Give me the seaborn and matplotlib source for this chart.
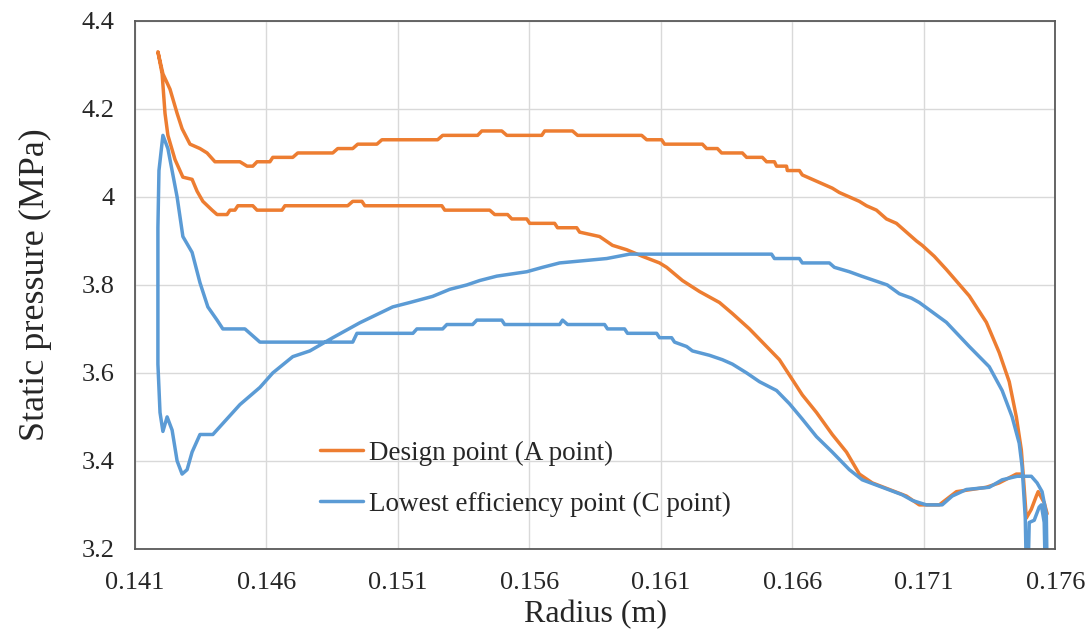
import numpy as np
import pandas as pd
import matplotlib
matplotlib.use("Agg")
import matplotlib.pyplot as plt
import seaborn as sns
from matplotlib.ticker import FuncFormatter

# ---------------- data ----------------
# Design point (A point): two branches of the blade loop
a_upper_r = [0.14187, 0.14206, 0.14233, 0.14260, 0.14279, 0.14309, 0.14347, 0.14374, 0.14404, 0.14499,
             0.14526, 0.14548, 0.14564, 0.14613, 0.14624, 0.14700, 0.14719, 0.14852, 0.14871, 0.14928,
             0.14947, 0.15020, 0.15039, 0.15251, 0.15270, 0.15403, 0.15419, 0.15495, 0.15514, 0.15647,
             0.15658, 0.15764, 0.15783, 0.16027, 0.16046, 0.16103, 0.16114, 0.16258, 0.16274, 0.16315,
             0.16331, 0.16410, 0.16426, 0.16486, 0.16502, 0.16532, 0.16540, 0.16578, 0.16581, 0.16627,
             0.16638, 0.16676, 0.16714, 0.16752, 0.16779, 0.16817, 0.16855, 0.16882, 0.16920, 0.16958,
             0.16996, 0.17034, 0.17072, 0.17094, 0.17140, 0.17186, 0.17273, 0.17338, 0.17387, 0.17425,
             0.17452, 0.17471, 0.17478, 0.17490, 0.17509, 0.17528, 0.17535, 0.17558, 0.17569]
a_upper_p = [4.33, 4.28, 4.245, 4.19, 4.155, 4.12, 4.11, 4.10, 4.08, 4.08,
             4.07, 4.07, 4.08, 4.08, 4.09, 4.09, 4.10, 4.10, 4.11, 4.11,
             4.12, 4.12, 4.13, 4.13, 4.14, 4.14, 4.15, 4.15, 4.14, 4.14,
             4.15, 4.15, 4.14, 4.14, 4.13, 4.13, 4.12, 4.12, 4.11, 4.11,
             4.10, 4.10, 4.09, 4.09, 4.08, 4.08, 4.07, 4.07, 4.06, 4.06,
             4.05, 4.04, 4.03, 4.02, 4.01, 4.00, 3.99, 3.98, 3.97, 3.95,
             3.94, 3.92, 3.90, 3.89, 3.865, 3.835, 3.775, 3.715, 3.646, 3.58,
             3.50, 3.425, 3.37, 3.27, 3.29, 3.32, 3.33, 3.305, 3.28]

a_lower_r = [0.14187, 0.14203, 0.14214, 0.14225, 0.14252, 0.14282, 0.14317, 0.14336, 0.14358, 0.14393,
             0.14412, 0.14450, 0.14461, 0.14480, 0.14491, 0.14548, 0.14564, 0.14659, 0.14670, 0.14909,
             0.14928, 0.14963, 0.14974, 0.15267, 0.15278, 0.15449, 0.15468, 0.15517, 0.15533, 0.15590,
             0.15601, 0.15696, 0.15707, 0.15780, 0.15791, 0.15867, 0.15916, 0.15970, 0.16030, 0.16095,
             0.16122, 0.16182, 0.16247, 0.16323, 0.16372, 0.16437, 0.16502, 0.16551, 0.16600, 0.16638,
             0.16692, 0.16752, 0.16806, 0.16855, 0.16904, 0.16969, 0.17034, 0.17083, 0.17159, 0.17224,
             0.17338, 0.17387, 0.17452, 0.17471]
a_lower_p = [4.33, 4.28, 4.19, 4.14, 4.085, 4.045, 4.04, 4.013, 3.99, 3.97,
             3.96, 3.96, 3.97, 3.97, 3.98, 3.98, 3.97, 3.97, 3.98, 3.98,
             3.99, 3.99, 3.98, 3.98, 3.97, 3.97, 3.96, 3.96, 3.95, 3.95,
             3.94, 3.94, 3.93, 3.93, 3.92, 3.91, 3.89, 3.88, 3.865, 3.85,
             3.84, 3.81, 3.785, 3.76, 3.735, 3.70, 3.66, 3.63, 3.585, 3.55,
             3.51, 3.46, 3.42, 3.37, 3.35, 3.335, 3.32, 3.30, 3.30, 3.33,
             3.34, 3.35, 3.37, 3.37]

# Lowest efficiency point (C point)
c_upper_r = [0.14206, 0.14225, 0.14260, 0.14282, 0.14317, 0.14347, 0.14377, 0.14412, 0.14434, 0.14518,
             0.14537, 0.14575, 0.14928, 0.14936, 0.14944, 0.15157, 0.15172, 0.15270, 0.15286, 0.15384,
             0.15400, 0.15495, 0.15506, 0.15715, 0.15726, 0.15745, 0.15886, 0.15897, 0.15962, 0.15973,
             0.16084, 0.16095, 0.16141, 0.16152, 0.16198, 0.16220, 0.16285, 0.16334, 0.16372, 0.16426,
             0.16475, 0.16540, 0.16589, 0.16638, 0.16692, 0.16752, 0.16817, 0.16866, 0.16942, 0.17018,
             0.17057, 0.17083, 0.17110, 0.17170, 0.17208, 0.17262, 0.17349, 0.17398, 0.17455, 0.17509,
             0.17531, 0.17550, 0.17566, 0.17569]
c_upper_p = [4.14, 4.11, 4.00, 3.91, 3.874, 3.805, 3.75, 3.72, 3.70, 3.70,
             3.69, 3.67, 3.67, 3.68, 3.69, 3.69, 3.70, 3.70, 3.71, 3.71,
             3.72, 3.72, 3.71, 3.71, 3.72, 3.71, 3.71, 3.70, 3.70, 3.69,
             3.69, 3.68, 3.68, 3.67, 3.66, 3.65, 3.64, 3.63, 3.62, 3.60,
             3.58, 3.56, 3.53, 3.495, 3.455, 3.42, 3.38, 3.357, 3.34, 3.323,
             3.31, 3.305, 3.30, 3.30, 3.32, 3.335, 3.34, 3.357, 3.365, 3.365,
             3.35, 3.33, 3.28, 3.15]

c_lower_r = [0.14206, 0.14191, 0.14187, 0.14187, 0.14187, 0.14195, 0.14206, 0.14222, 0.14241, 0.14260,
             0.14279, 0.14298, 0.14317, 0.14347, 0.14396, 0.14499, 0.14575, 0.14624, 0.14700, 0.14765,
             0.14852, 0.14955, 0.15080, 0.15145, 0.15232, 0.15297, 0.15362, 0.15411, 0.15476, 0.15590,
             0.15650, 0.15715, 0.15894, 0.15981, 0.16521, 0.16532, 0.16627, 0.16638, 0.16741, 0.16760,
             0.16817, 0.16863, 0.16912, 0.16961, 0.17007, 0.17053, 0.17083, 0.17186, 0.17273, 0.17349,
             0.17398, 0.17436, 0.17463, 0.17474, 0.17486, 0.17490]
c_lower_p = [4.14, 4.06, 3.93, 3.77, 3.62, 3.51, 3.467, 3.50, 3.47, 3.40,
             3.37, 3.38, 3.42, 3.46, 3.46, 3.528, 3.567, 3.60, 3.637, 3.65,
             3.68, 3.714, 3.75, 3.76, 3.774, 3.79, 3.80, 3.81, 3.82, 3.83,
             3.84, 3.85, 3.86, 3.87, 3.87, 3.86, 3.86, 3.85, 3.85, 3.84,
             3.83, 3.82, 3.81, 3.80, 3.78, 3.77, 3.76, 3.715, 3.66, 3.614,
             3.56, 3.50, 3.44, 3.387, 3.27, 3.15]

# small hump at the trailing edge of the C point curve
c_te_r = [0.17497, 0.17501, 0.17520, 0.17539, 0.17547, 0.17558, 0.17562]
c_te_p = [3.15, 3.26, 3.265, 3.295, 3.30, 3.26, 3.15]

x_ticks = [0.141, 0.146, 0.151, 0.156, 0.161, 0.166, 0.171, 0.176]
y_ticks = [3.2, 3.4, 3.6, 3.8, 4.0, 4.2, 4.4]

# one continuous path per series
design = pd.DataFrame({
    "r": a_lower_r[::-1] + a_upper_r,
    "p": a_lower_p[::-1] + a_upper_p,
})
lowest = pd.DataFrame({
    "r": c_upper_r[::-1] + c_lower_r + c_te_r,
    "p": c_upper_p[::-1] + c_lower_p + c_te_p,
})

# ---------------- plot ----------------
sns.set_theme(style="white")
plt.rcParams['font.family'] = ['Liberation Serif', 'DejaVu Serif']

fig, ax = plt.subplots(figsize=(10.89, 6.36), dpi=100)
fig.subplots_adjust(left=0.124, right=0.969, top=0.967, bottom=0.137)

sns.lineplot(data=design, x="r", y="p", sort=False, estimator=None, color="#ED7D31",
             linewidth=2.5, label="Design point (A point)", ax=ax)
sns.lineplot(data=lowest, x="r", y="p", sort=False, estimator=None, color="#5B9BD5",
             linewidth=2.5, label="Lowest efficiency point (C point)", ax=ax)

ax.set_xlim(0.141, 0.176)
ax.set_ylim(3.2, 4.4)
ax.set_xticks(x_ticks)
ax.set_yticks(y_ticks)
ax.xaxis.set_major_formatter(FuncFormatter(lambda v, _: f"{v:.3f}"))
ax.yaxis.set_major_formatter(FuncFormatter(lambda v, _: f"{v:g}"))
ax.grid(True, color="#D9D9D9", linewidth=1.0)
ax.set_axisbelow(True)

for s in ax.spines.values():
    s.set_color("#595959")
    s.set_linewidth(1.3)
ax.tick_params(direction="in", length=5, width=1.0, color="#595959",
               labelsize=19, labelcolor="#262626")
ax.tick_params(axis="x", pad=17)
ax.tick_params(axis="y", pad=15)

ax.set_xlabel("Radius (m)", fontsize=23, color="#262626", labelpad=4)
ax.set_ylabel("Static pressure (MPa)", fontsize=26, color="#262626", labelpad=21)

ax.legend(loc="upper left", bbox_to_anchor=(0.201, 0.205), frameon=False, fontsize=19.5,
          handlelength=1.6, handletextpad=0.2, labelspacing=0.95, borderpad=0, borderaxespad=0)

fig.savefig("out.png", dpi=100)
